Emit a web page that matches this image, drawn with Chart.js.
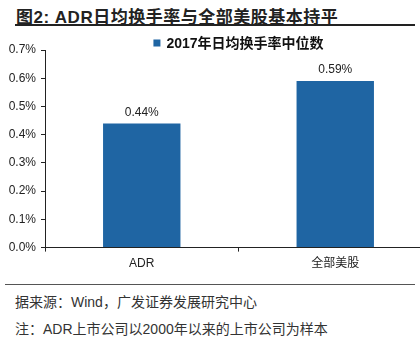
<!DOCTYPE html>
<html lang="zh">
<head>
<meta charset="UTF-8">
<title>ADR日均换手率</title>
<script src="https://cdn.jsdelivr.net/npm/chart.js"></script>
<style>
  body { margin: 0; width: 420px; height: 339px; overflow: hidden; background: #fff; position: relative;
         font-family: "Liberation Sans", "Noto Sans CJK SC", sans-serif; }
  #title { position: absolute; left: 16px; top: 3px; font-size: 17px; font-weight: bold; color: #222; letter-spacing: 0.5px; }
  #rule { position: absolute; left: 15px; top: 24px; width: 400px; height: 2px; background: #222; }
  #wrap { position: absolute; left: 0; top: 30px; width: 432px; height: 246px; }
  #foot-rule { position: absolute; left: 5px; top: 284px; width: 410px; height: 1px; background: #555; }
  .note { position: absolute; left: 15px; font-size: 14px; color: #333; }
</style>
</head>
<body>
<div id="title">图2: ADR日均换手率与全部美股基本持平</div>
<div id="rule"></div>
<div id="wrap"><canvas id="chart"></canvas></div>
<div id="foot-rule"></div>
<div class="note" style="top:291px">据来源：Wind，广发证券发展研究中心</div>
<div class="note" style="top:318px">注：ADR上市公司以2000年以来的上市公司为样本</div>

<script>
    // data (percent)
    const categories = ['ADR', '全部美股'];
    const turnover = [0.44, 0.59];
    const seriesName = '2017年日均换手率中位数';
    const yTicks = [0, 0.1, 0.2, 0.3, 0.4, 0.5, 0.6, 0.7];

    // value labels above bars
    const barLabels = {
        id: 'barLabels',
        afterDatasetsDraw(chart) {
            const ctx = chart.ctx;
            const meta = chart.getDatasetMeta(0);
            ctx.save();
            ctx.font = '12px "Liberation Sans", sans-serif';
            ctx.fillStyle = '#222';
            ctx.textAlign = 'center';
            ctx.textBaseline = 'bottom';
            meta.data.forEach((bar, i) => {
                ctx.fillText(turnover[i].toFixed(2) + '%', bar.x, bar.y - 5);
            });
            ctx.restore();
        }
    };

    // legend centred over the plot area, not the whole canvas
    const plotLegend = {
        id: 'plotLegend',
        afterDraw(chart) {
            const ctx = chart.ctx;
            const ds = chart.data.datasets[0];
            const area = chart.chartArea;
            ctx.save();
            ctx.font = 'bold 14px "Liberation Sans", "Noto Sans CJK SC", sans-serif';
            const tw = ctx.measureText(ds.label).width;
            const box = 7, gap = 6;
            const x0 = (area.left + area.right) / 2 - (box + gap + tw) / 2;
            const y = 13;
            ctx.fillStyle = ds.backgroundColor;
            ctx.fillRect(x0, y - box / 2, box, box);
            ctx.fillStyle = '#111';
            ctx.textBaseline = 'middle';
            ctx.fillText(ds.label, x0 + box + gap, y + 1);
            ctx.restore();
        }
    };

    new Chart(document.getElementById('chart'), {
        type: 'bar',
        data: {
            labels: categories,
            datasets: [{
                label: seriesName,
                data: turnover,
                backgroundColor: '#1f65a3',
                categoryPercentage: 0.8,
                barPercentage: 0.5
            }]
        },
        options: {
            responsive: true,
            maintainAspectRatio: false,
            animation: false,
            layout: { padding: { top: 20 } },
            plugins: {
                legend: { display: false },
                tooltip: { enabled: false }
            },
            scales: {
                x: {
                    offset: true,
                    grid: { display: true, drawOnChartArea: false, drawTicks: true, tickLength: 4, color: '#222', offset: true },
                    border: { color: '#222', width: 1 },
                    ticks: { color: '#222', padding: 5, font: { size: 12, family: '"Liberation Sans", "Noto Sans CJK SC", sans-serif' } }
                },
                y: {
                    min: 0,
                    max: 0.7,
                    afterFit(scale) { scale.width = 45; },
                    afterBuildTicks(scale) { scale.ticks = yTicks.map(v => ({ value: v })); },
                    grid: { display: true, drawOnChartArea: false, drawTicks: true, tickLength: 4, color: '#222' },
                    border: { color: '#222', width: 1 },
                    ticks: {
                        color: '#222',
                        padding: 5,
                        font: { size: 12, family: '"Liberation Sans", sans-serif' },
                        callback: v => v.toFixed(1) + '%'
                    }
                }
            }
        },
        plugins: [barLabels, plotLegend]
    });
</script>
</body>
</html>
